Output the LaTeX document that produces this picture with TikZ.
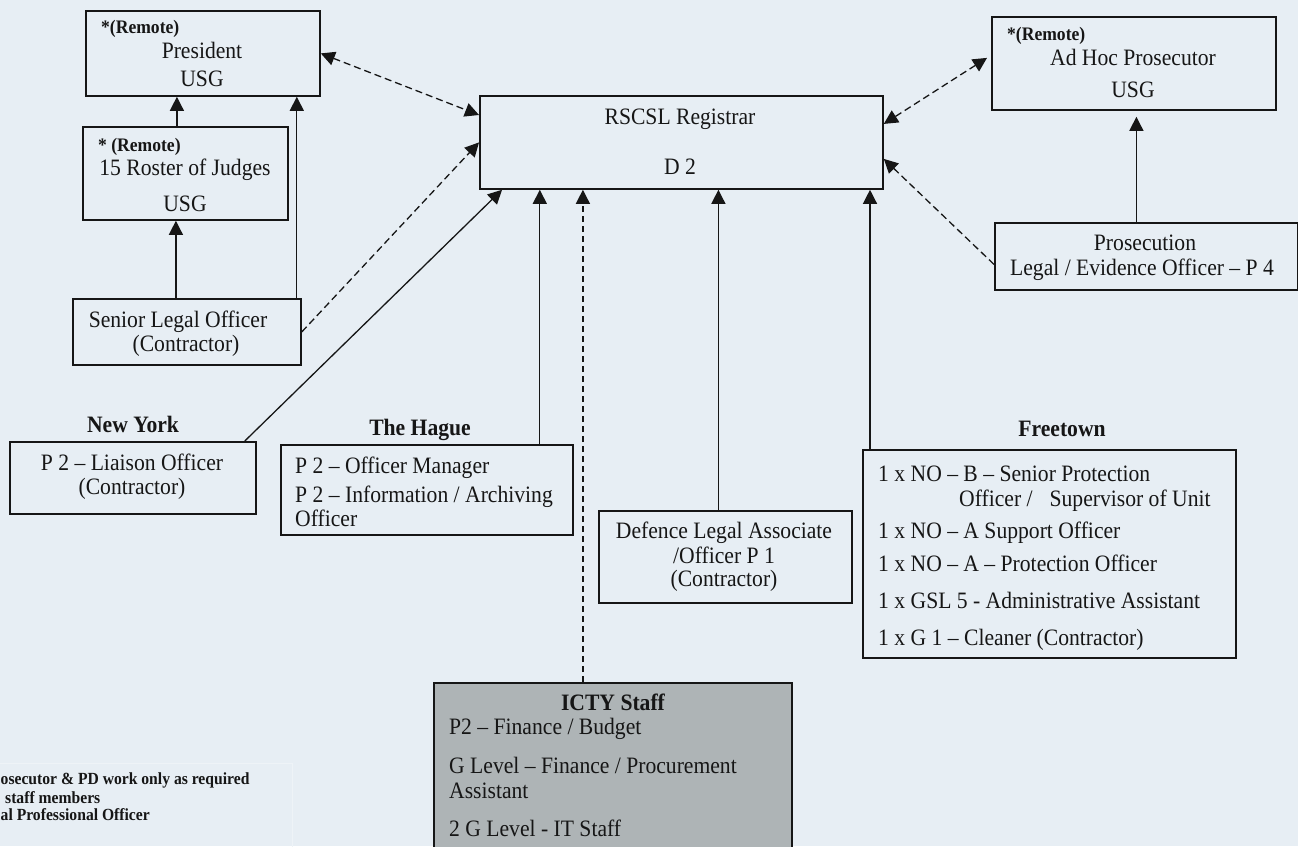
\documentclass[tikz,border=0pt]{standalone}
\usepackage{fontspec}
\setmainfont{Liberation Serif}[FakeStretch=0.92]
\usetikzlibrary{arrows.meta}
\definecolor{bg}{RGB}{231,238,244}
\definecolor{ictyfill}{RGB}{174,180,182}
\definecolor{ink}{RGB}{22,22,22}
\definecolor{faint}{RGB}{238,243,247}
\begin{document}
\begin{tikzpicture}[x=1pt,y=-1pt,
 box/.style={draw=ink,line width=1.8pt,rectangle,inner sep=0pt,anchor=north west},
 txt/.style={inner sep=0pt,anchor=base,font=\fontsize{23.5}{28}\selectfont,text=ink},
 ltxt/.style={txt,anchor=base west},
 rem/.style={inner sep=0pt,anchor=base west,font=\fontsize{19.1}{23}\selectfont\bfseries,text=ink},
 loc/.style={inner sep=0pt,anchor=base,font=\fontsize{23.5}{28}\selectfont\bfseries,text=ink},
 leg/.style={inner sep=0pt,anchor=base west,font=\fontsize{17}{20}\selectfont\bfseries,text=ink},
 arr/.style={draw=ink,line width=1.3pt,-{Triangle[length=14pt,width=14pt]}},
 darr/.style={arr,dash pattern=on 7pt off 4pt},
 vdarr/.style={arr,dash pattern=on 6pt off 4pt},
 dbl/.style={darr,{Triangle[length=14pt,width=14pt]}-{Triangle[length=14pt,width=14pt]}}
]
\useasboundingbox (0,0) rectangle (1298,846);
\clip (0,0) rectangle (1298,846);
\fill[bg] (0,0) rectangle (1298,846);

% legend (cut off)
\node[box,draw=faint,line width=1pt,minimum width=297pt,minimum height=100pt] (legbox) at (-5,763) {};
\node[leg] (leg1) at (0.5,784) {osecutor \& PD work only as required};
\node[leg] (leg2) at (5,803) {staff members};
\node[leg] (leg3) at (0.5,820) {al Professional Officer};

% boxes
\node[box,minimum width=234pt,minimum height=85pt] (pres) at (85,10) {};
\node[box,minimum width=205pt,minimum height=93pt] (roster) at (82,126) {};
\node[box,minimum width=228pt,minimum height=66pt] (senior) at (72,298) {};
\node[box,minimum width=403pt,minimum height=93pt] (reg) at (479,95) {};
\node[box,minimum width=284pt,minimum height=93pt] (adhoc) at (991,16) {};
\node[box,minimum width=303pt,minimum height=67pt] (prosec) at (994,222) {};
\node[box,minimum width=246pt,minimum height=72pt] (ny) at (9,441) {};
\node[box,minimum width=292pt,minimum height=90pt] (hague) at (280,444) {};
\node[box,minimum width=253pt,minimum height=92pt] (defence) at (598,510) {};
\node[box,minimum width=373pt,minimum height=208pt] (freetown) at (862,449) {};
\node[box,fill=ictyfill,minimum width=358pt,minimum height=200pt] (icty) at (433,682) {};

% texts
\node[rem] (presr) at (101,33) {*(Remote)};
\node[txt] (presa) at (202,58) {President};
\node[txt] (presb) at (202,86) {USG};

\node[rem] (rosr) at (98,151) {* (Remote)};
\node[txt] (rosa) at (185,175) {15 Roster of Judges};
\node[txt] (rosb) at (185,211) {USG};

\node[txt] (sena) at (178,327) {Senior Legal Officer};
\node[txt] (senb) at (186,351) {(Contractor)};

\node[txt] (rega) at (680,124) {RSCSL Registrar};
\node[txt] (regb) at (680,174) {D 2};

\node[rem] (adr) at (1007,40) {*(Remote)};
\node[txt] (ada) at (1133,65) {Ad Hoc Prosecutor};
\node[txt] (adb) at (1133,97) {USG};

\node[txt] (pra) at (1145,250) {Prosecution};
\node[txt] (prb) at (1142,275) {Legal / Evidence Officer – P 4};

\node[loc] (nyl) at (133,432) {New York};
\node[txt] (nya) at (132,470) {P 2 – Liaison Officer};
\node[txt] (nyb) at (132,494) {(Contractor)};

\node[loc] (hal) at (420,435) {The Hague};
\node[ltxt] (haa) at (295,473) {P 2 – Officer Manager};
\node[ltxt] (hab) at (295,502) {P 2 – Information / Archiving};
\node[ltxt] (hac) at (295,526) {Officer};

\node[txt] (dea) at (724,538) {Defence Legal Associate};
\node[txt] (deb) at (724,563) {/Officer P 1};
\node[txt] (dec) at (724,586) {(Contractor)};

\node[loc] (frl) at (1062,436) {Freetown};
\node[ltxt] (fra) at (878,481) {1 x NO – B – Senior Protection};
\node[ltxt] (frb) at (959,506) {Officer /\hspace{17pt}Supervisor of Unit};
\node[ltxt] (frc) at (878,538) {1 x NO – A Support Officer};
\node[ltxt] (frd) at (878,571) {1 x NO – A – Protection Officer};
\node[ltxt] (fre) at (878,608) {1 x GSL 5 - Administrative Assistant};
\node[ltxt] (frf) at (878,645) {1 x G 1 – Cleaner (Contractor)};

\node[loc] (ictl) at (613,710) {ICTY Staff};
\node[ltxt] (icta) at (449,734) {P2 – Finance / Budget};
\node[ltxt] (ictb) at (449,773) {G Level – Finance / Procurement};
\node[ltxt] (ictc) at (449,798) {Assistant};
\node[ltxt] (ictd) at (449,836) {2 G Level - IT Staff};

% connectors
\draw[arr] ([xshift=-8.5pt]roster.north) -- ([xshift=-8.5pt]roster.north |- pres.south);
\draw[arr] ([xshift=-11pt]senior.north) -- ([xshift=-11pt]senior.north |- roster.south);
\draw[arr] ([xshift=-5pt]senior.north east) -- ([xshift=-5pt]senior.north east |- pres.south);
\draw[dbl] (pres.east) -- ([yshift=-20pt]reg.north west);
\draw[darr] (senior.east) -- (reg.west);
\draw[arr] ([xshift=-12pt]ny.north east) -- ([xshift=23pt]reg.south west);
\draw[arr] ([xshift=-34pt]hague.north east) -- ([xshift=-34pt]hague.north east |- reg.south);
\draw[vdarr] ([xshift=-30pt]icty.north) -- ([xshift=-30pt]icty.north |- reg.south);
\draw[arr] ([xshift=-7pt]defence.north) -- ([xshift=-7pt]defence.north |- reg.south);
\draw[arr] ([xshift=8pt]freetown.north west) -- ([xshift=8pt]freetown.north west |- reg.south);
\draw[darr] ([yshift=-8pt]prosec.west) -- ([yshift=-16.5pt]reg.east);
\draw[dbl] ([xshift=-4pt,yshift=5.5pt]adhoc.west) -- ([yshift=18.5pt]reg.east);
\draw[arr,shorten >=6pt] ([xshift=-10pt]prosec.north) -- ([xshift=-10pt]prosec.north |- adhoc.south);
\end{tikzpicture}
\end{document}
